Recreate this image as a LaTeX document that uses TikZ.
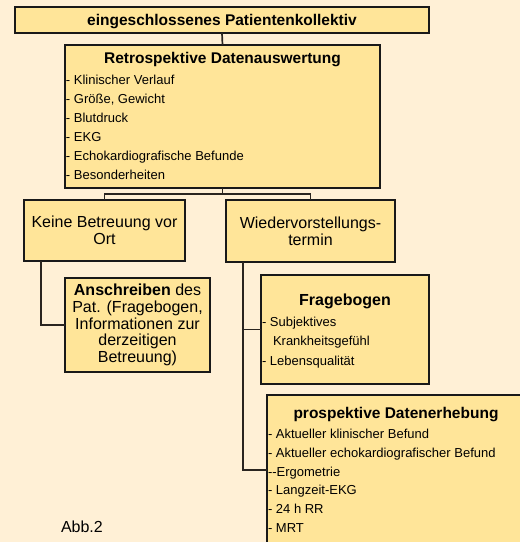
\documentclass[tikz,border=0pt]{standalone}
\usepackage{fontspec}
\setmainfont{Liberation Sans}
\usetikzlibrary{positioning,calc}
\definecolor{bgcream}{HTML}{FFF0D6}
\definecolor{boxyellow}{HTML}{FFE599}
\definecolor{linegrey}{HTML}{2A2520}

\begin{document}
\begin{tikzpicture}[x=1pt,y=-1pt,every node/.style={outer sep=0pt,inner sep=0pt},
		box/.style={draw=black!90,line width=1.4pt,fill=boxyellow,anchor=north west},
		heading/.style={font=\fontsize{15.5}{18}\selectfont\bfseries,text height=11.2pt,text depth=0pt},
		item/.style={font=\fontsize{13}{15}\selectfont,anchor=west,text height=9.4pt,text depth=0pt},
		plain/.style={font=\fontsize{16}{16.8}\selectfont,align=center},
		link/.style={draw=linegrey,line width=1.7pt},
		]
		\path[use as bounding box,fill=bgcream] (0,0) rectangle (520,542);
		\clip (0,0) rectangle (520,542);

		\path (15,7) node[box,minimum width=414pt,minimum height=26pt] (kollektiv){};
		\path (kollektiv.center) node[heading] {eingeschlossenes Patientenkollektiv};

		\path (65,45) node[box,minimum width=315pt,minimum height=143pt] (retro){};
		\path ($(retro.north)+(0,13)$) node[heading] {Retrospektive Datenauswertung};
		\foreach \txt [count=\i] in {Klinischer Verlauf,{Größe, Gewicht},Blutdruck,EKG,Echokardiografische Befunde,Besonderheiten}
			\path ($(retro.north west)+(1,16+19*\i)$) node[item] {- \txt};

		\path (24,200) node[box,minimum width=161pt,minimum height=61pt] (keine){};
		\path (keine.center) node[plain] {Keine Betreuung vor\\Ort};

		\path (226,200) node[box,minimum width=169pt,minimum height=62pt] (wieder){};
		\path ($(wieder.center)+(0,0.5)$) node[plain] {Wiedervorstellungs-\\termin};

		\path (65,278) node[box,minimum width=145pt,minimum height=94pt] (anschr){};
		\path (anschr.center) node[plain] {\textbf{Anschreiben} des\\Pat. (Fragebogen,\\Informationen zur\\derzeitigen\\Betreuung)};

		\path (261,275) node[box,minimum width=168pt,minimum height=109pt] (frage){};
		\path ($(frage.north)+(0,25)$) node[heading,font=\fontsize{16}{18}\selectfont\bfseries] {Fragebogen};
		\path ($(frage.north west)+(1,47)$) node[item] {- Subjektives};
		\path ($(frage.north west)+(12,66)$) node[item] {Krankheitsgefühl};
		\path ($(frage.north west)+(1,86)$) node[item] {- Lebensqualität};

		\path (267,395) node[box,minimum width=258pt,minimum height=150pt] (prosp){};
		\path ($(prosp.north)+(0,18)$) node[heading] {prospektive Datenerhebung};
		\foreach \txt [count=\i] in {- Aktueller klinischer Befund,- Aktueller echokardiografischer Befund,{-}{-}Ergometrie,- Langzeit-EKG,- 24 h RR,- MRT}
			\path ($(prosp.north west)+(1,20+18.8*\i)$) node[item] {\txt};

		\path (61,527) node[plain,anchor=west] (abb) {Abb.2};

		\draw[link] (kollektiv.south) -- (retro.north);
		\draw[link] (retro.south) -- ++(0,6) -| (keine.north);
		\draw[link] (retro.south) -- ++(0,6) -| (wieder.north);
		\draw[link] ($(keine.south west)+(17,0)$) |- (anschr.west);
		\draw[link] ($(wieder.south west)+(17,0)$) |- (frage.west);
		\draw[link] ($(wieder.south west)+(17,0)$) |- (prosp.west);
	\end{tikzpicture}
\end{document}
